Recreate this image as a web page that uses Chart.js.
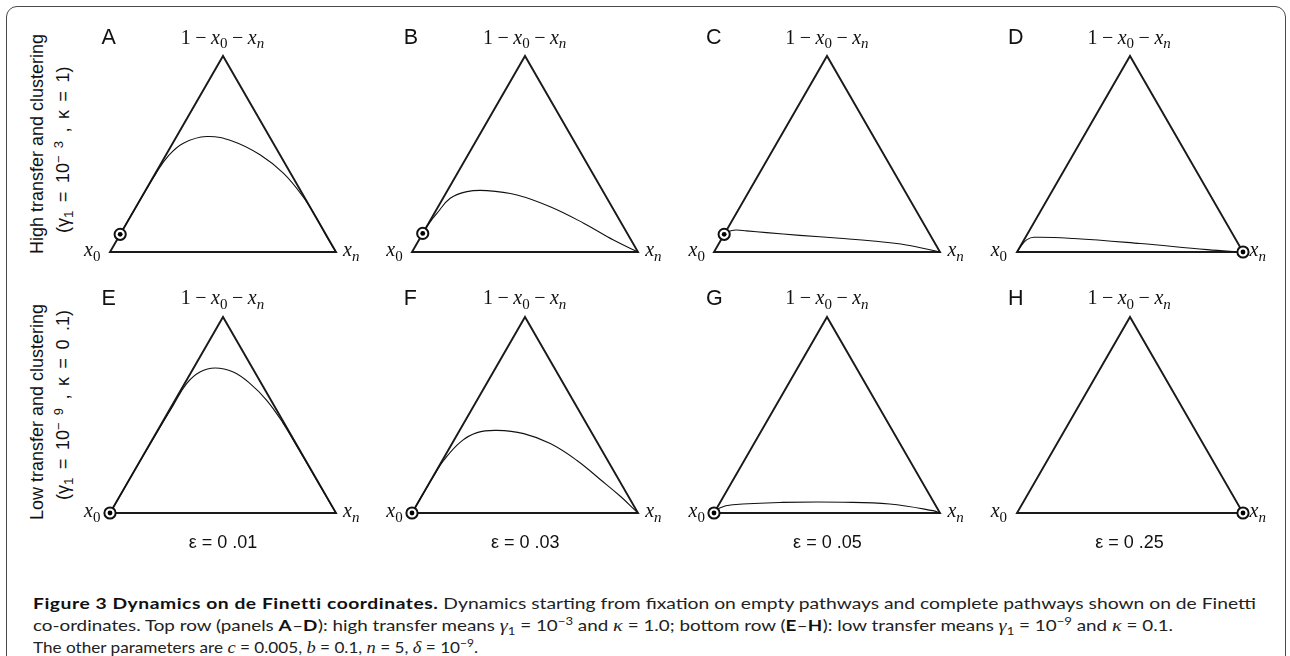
<!DOCTYPE html>
<html><head><meta charset="utf-8">
<script src="https://cdn.jsdelivr.net/npm/chart.js@4.4.1/dist/chart.umd.min.js"></script>
<style>
html,body{margin:0;padding:0;background:#fff;width:1290px;height:656px;overflow:hidden;position:relative}
#frame{position:absolute;left:6px;top:6px;width:1280px;height:680px;border:1.6px solid #4a4a4a;border-radius:11px;box-sizing:border-box}
.cv{position:absolute}
.t{position:absolute;line-height:0;white-space:nowrap;color:#111}
.sans{font-family:"Liberation Sans",Arial,sans-serif}
.serif{font-family:"Liberation Serif","DejaVu Serif",serif}
.t sub{font-size:0.75em;vertical-align:baseline;position:relative;top:0.32em}
.t sup{font-size:0.72em;vertical-align:baseline;position:relative;top:-0.45em}
.m{margin:0 4.5px}
.ws{word-spacing:3.5px}
.cap{position:absolute;left:33px;line-height:0;white-space:nowrap;font-family:Lato,"Open Sans",sans-serif;font-size:16px;color:#222;transform-origin:0 0}
.cap b{color:#111;letter-spacing:0.45px}
.cap sub{font-size:0.7em;vertical-align:baseline;position:relative;top:0.3em}
.cap sup{font-size:0.7em;vertical-align:baseline;position:relative;top:-0.55em}
.cap i{font-family:"Liberation Serif",serif;font-size:1.08em}
</style></head>
<body>
<div id="frame"></div>
<script>
// ---------- data ----------
const panelLetters = ['A','B','C','D','E','F','G','H'];
const epsilonLabels = ['ε = 0 .01','ε = 0 .03','ε = 0 .05','ε = 0 .25'];
const rowTitles = ['High transfer and clustering','Low transfer and clustering'];
const rowParams = ['(γ<sub>1</sub> = 10<sup>− 3</sup> , κ = 1)','(γ<sub>1</sub> = 10<sup>− 9</sup> , κ = 0 .1)'];

// trajectories in de Finetti coordinates: mid = 1 - x0 - xn, xn
const midA = [0.09,0.2,0.3,0.4,0.487,0.555,0.589,0.564,0.496,0.402,0.283,0.178,0.061,0];
const xnA  = [0,0,0.001,0.003,0.012,0.047,0.133,0.264,0.416,0.566,0.712,0.822,0.937,1];
const midB = [0.095,0.15,0.198,0.274,0.308,0.313,0.291,0.231,0.147,0.061,0];
const xnB  = [0,0.003,0.012,0.032,0.089,0.175,0.319,0.496,0.686,0.861,1];
const midC = [0.09,0.105,0.112,0.108,0.099,0.085,0.070,0.056,0.036,0];
const xnC  = [0,0.012,0.04,0.09,0.183,0.337,0.521,0.675,0.833,1];
const midD = [0,0.04,0.063,0.075,0.069,0.043,0.012,0];
const xnD  = [0,0.004,0.0125,0.036,0.216,0.524,0.835,1];
const midE = [0,0.2,0.4,0.549,0.66,0.719,0.74,0.719,0.66,0.575,0.46,0.35,0.2,0.1,0];
const xnE  = [0,0,0.002,0.005,0.009,0.0385,0.095,0.186,0.29,0.406,0.535,0.647,0.798,0.899,1];
const midF = [0,0.1,0.2,0.268,0.362,0.41,0.4215,0.405,0.354,0.268,0.171,0.0855,0];
const xnF  = [0,0,0.002,0.006,0.033,0.083,0.165,0.292,0.435,0.596,0.7475,0.879,1];
const midG = [0,0.026,0.042,0.054,0.055,0.046,0.012,0];
const xnG  = [0,0.012,0.062,0.277,0.546,0.754,0.963,1];
const midH = [];
const xnH  = [];

const markerMid = [0.09,0.095,0.09,0,0,0,0,0];
const markerXn  = [0,0,0,1,0,0,0,1];

// ---------- layout ----------
const curves = [[midA,xnA],[midB,xnB],[midC,xnC],[midD,xnD],[midE,xnE],[midF,xnF],[midG,xnG],[midH,xnH]];
const SQ = Math.sqrt(3)/2;
const W = 226, H = W*SQ, PAD = 14;
const toXY = (mid, xn) => ({x: xn + mid/2, y: mid*SQ});

function txt(html, x, baseY, cls, size, align){
  const d = document.createElement('div');
  d.className = 't ' + cls;
  d.style.fontSize = size + 'px';
  const k = cls === 'serif' ? 0.3375 : 0.3465;
  d.style.top = (baseY - k*size) + 'px';
  d.style.left = x + 'px';
  if (align === 'center') d.style.transform = 'translateX(-50%)';
  if (align === 'right') d.style.transform = 'translateX(-100%)';
  d.innerHTML = html;
  document.body.appendChild(d);
  return d;
}
function vtxt(html, baseX, startY, size, extra){
  const d = document.createElement('div');
  d.className = 't sans' + (extra ? ' ' + extra : '');
  d.style.fontSize = size + 'px';
  d.style.left = (baseX - 0.3465*size) + 'px';
  d.style.top = startY + 'px';
  d.style.transformOrigin = '0 0';
  d.style.transform = 'rotate(-90deg)';
  d.innerHTML = html;
  document.body.appendChild(d);
}

const topLabel = '1<span class="m">−</span><i>x</i><sub>0</sub><span class="m">−</span><i>x</i><sub><i>n</i></sub>';

for (let i = 0; i < 8; i++){
  const col = i % 4, row = Math.floor(i/4);
  const Lx = 110 + col*302.2;
  const By = row ? 512.5 : 251.7;
  const wrap = document.createElement('div');
  wrap.className = 'cv';
  wrap.style.left = (Lx - PAD) + 'px';
  wrap.style.top = (By - H - PAD) + 'px';
  const cv = document.createElement('canvas');
  cv.width = W + 2*PAD; cv.height = Math.round(H + 2*PAD);
  cv.style.width = cv.width + 'px'; cv.style.height = cv.height + 'px';
  wrap.appendChild(cv);
  document.body.appendChild(wrap);

  const [mids, xns] = curves[i];
  const curvePts = mids.map((m, j) => toXY(m, xns[j]));
  const mk = [toXY(markerMid[i], markerXn[i])];
  const tri = [toXY(0,0), toXY(0,1), toXY(1,0), toXY(0,0), toXY(0,1)];

  new Chart(cv, {
    type: 'scatter',
    data: { datasets: [
      {data: mk, pointRadius: 2.4, pointBorderWidth: 0, pointBackgroundColor: '#000', clip: false},
      {data: mk, pointRadius: 5.6, pointBorderWidth: 2, pointBorderColor: '#111', pointBackgroundColor: '#fff', clip: false},
      {data: curvePts, showLine: true, borderColor: '#111', borderWidth: 1.1, pointRadius: 0, tension: 0.4, clip: false},
      {data: tri, showLine: true, borderColor: '#1a1a1a', borderWidth: 1.9, pointRadius: 0, tension: 0, clip: false, borderJoinStyle: 'miter'}
    ]},
    options: {
      responsive: false, animation: false, events: [],
      layout: {padding: PAD},
      plugins: {legend: {display: false}, tooltip: {enabled: false}},
      scales: {
        x: {type: 'linear', display: false, min: 0, max: 1},
        y: {type: 'linear', display: false, min: 0, max: SQ}
      }
    }
  });

  txt(panelLetters[i], Lx - 8.5, By - 207.3, 'sans', 21.5, 'left');
  txt(topLabel, Lx + 112.5, By - 208.4, 'serif', 20, 'center');
  txt('<i>x</i><sub>0</sub>', Lx - 9.5, By + 4, 'serif', 20, 'right');
  txt('<i>x</i><sub><i>n</i></sub>', Lx + W + 7, By + 4, 'serif', 20, 'left');
  if (row === 1) txt(epsilonLabels[col], Lx + 113, 548, 'sans', 18, 'center');
}

vtxt(rowTitles[0], 43.5, 253.5, 18);
vtxt(rowParams[0], 69, 233, 18, 'ws');
vtxt(rowTitles[1], 43.5, 520, 18);
vtxt(rowParams[1], 69, 500, 18, 'ws');

// ---------- caption ----------
const capLines = [
  '<b>Figure 3 Dynamics on de Finetti coordinates.</b> Dynamics starting from fixation on empty pathways and complete pathways shown on de Finetti',
  'co-ordinates. Top row (panels <b>A</b>–<b>D</b>): high transfer means <i>γ</i><sub>1</sub> = 10<sup>−3</sup> and <i>κ</i> = 1.0; bottom row (<b>E</b>–<b>H</b>): low transfer means <i>γ</i><sub>1</sub> = 10<sup>−9</sup> and <i>κ</i> = 0.1.',
  'The other parameters are <i>c</i> = 0.005, <i>b</i> = 0.1, <i>n</i> = 5, <i>δ</i> = 10<sup>−9</sup>.'
];
const capBase = [609, 631.5, 653];
const capTargets = [1223, 1140, 445];
const capEls = capLines.map((h, j) => {
  const d = document.createElement('div');
  d.className = 'cap';
  d.style.top = (capBase[j] - 0.387*16) + 'px';
  d.innerHTML = h;
  document.body.appendChild(d);
  return d;
});
function fitCaption(){
  capEls.forEach(e => e.style.transform = '');
  capEls.forEach((e, j) => {
    const s = capTargets[j] / e.getBoundingClientRect().width;
    e.style.transform = 'scaleX(' + s + ')';
  });
}
fitCaption();
if (document.fonts && document.fonts.ready) document.fonts.ready.then(fitCaption);
</script>
</body></html>
